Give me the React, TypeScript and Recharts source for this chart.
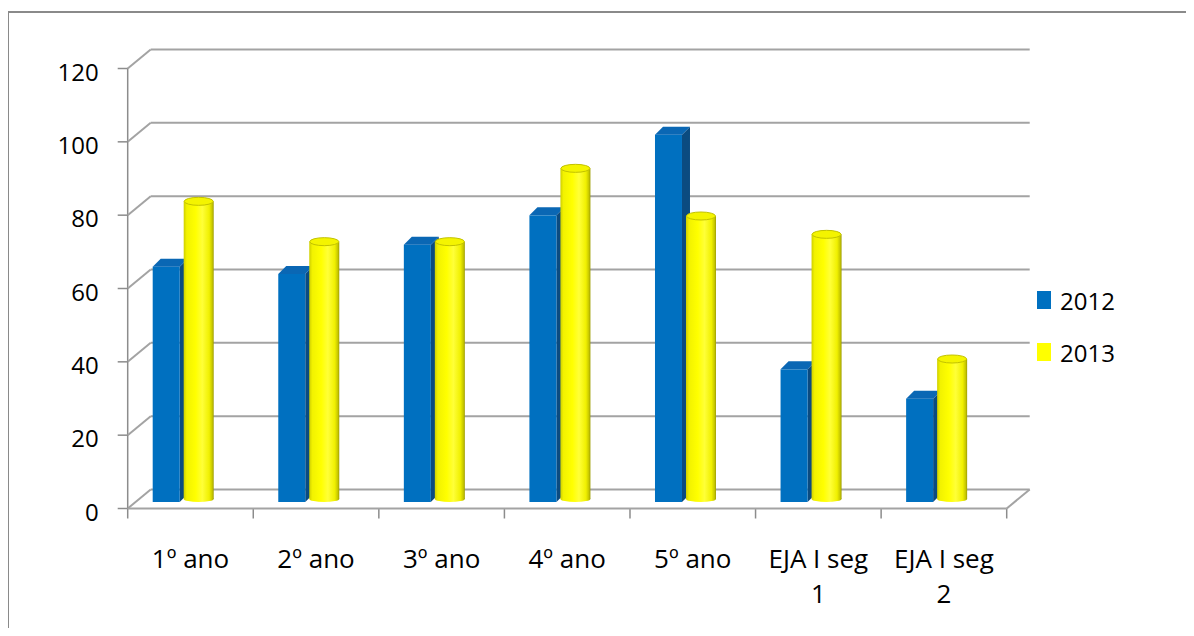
import { BarChart, Bar, XAxis, YAxis, CartesianGrid } from 'recharts';

const categories = ['1º ano', '2º ano', '3º ano', '4º ano', '5º ano', 'EJA I seg 1', 'EJA I seg 2'];
const values2012 = [65, 63, 71, 79, 101, 37, 29];
const values2013 = [82, 71, 71, 91, 78, 73, 39];
const yTicks = [0, 20, 40, 60, 80, 100, 120];
const seriesNames = ['2012', '2013'];

const COLORS = {
  blue: '#0070C0',
  blueTop: '#0a67b4',
  blueSide: '#0b4b80',
  yellow: '#FFFF00',
};

const FONT = '"Open Sans", sans-serif';
const GRID = '#a3a3a3';
const AXIS = '#8c8c8c';

const W = 1184;
const H = 620;
// plot area the bars stand in; the front axes and back wall are offset from it
const PLOT = { left: 112.7, right: 991.7, top: 54, bottom: 494 };
const Y_AXIS_W = 60;
const X_AXIS_H = 100;
const FRONT = { dx: 7, dy: 6.5 };
const BACK = { dx: 30, dy: -12.5 };
const MAX_LINE_CHARS = 9;

const data = categories.map((name, i) => ({
  name,
  y2012: values2012[i],
  y2013: values2013[i],
}));

// greedy word wrap for the category labels
function wrapLabel(label: string): string[] {
  const lines: string[] = [];
  let cur = '';
  for (const w of label.split(' ')) {
    const next = cur ? `${cur} ${w}` : w;
    if (next.length > MAX_LINE_CHARS && cur) {
      lines.push(cur);
      cur = w;
    } else {
      cur = next;
    }
  }
  if (cur) lines.push(cur);
  return lines;
}

function BackLine(props: any) {
  return (
    <line
      key={`back-${props.index}`}
      x1={props.x1 + BACK.dx}
      x2={props.x2 + BACK.dx}
      y1={props.y1 + BACK.dy}
      y2={props.y2 + BACK.dy}
      stroke={GRID}
      strokeWidth={2}
    />
  );
}

function YTick({ y, payload }: any) {
  const fx = PLOT.left + FRONT.dx;
  const fy = y + FRONT.dy;
  const v = payload.value;
  return (
    <g>
      <line x1={fx} y1={fy} x2={PLOT.left + BACK.dx} y2={y + BACK.dy} stroke={GRID} strokeWidth={2} />
      <line x1={fx - 10} y1={fy} x2={fx} y2={fy} stroke={AXIS} strokeWidth={1.5} />
      {v === 0 && (
        <>
          <line x1={fx} y1={fy} x2={fx} y2={PLOT.top + FRONT.dy} stroke={AXIS} strokeWidth={1.5} />
          <line x1={fx} y1={fy} x2={PLOT.right + FRONT.dx} y2={fy} stroke={GRID} strokeWidth={2} />
          <line
            x1={PLOT.right + FRONT.dx}
            y1={fy}
            x2={PLOT.right + BACK.dx}
            y2={y + BACK.dy}
            stroke={GRID}
            strokeWidth={2}
          />
        </>
      )}
      <text
        x={fx - 29}
        y={fy + 3.5}
        dy="0.355em"
        textAnchor="end"
        fontFamily={FONT}
        fontSize={24}
        fill="#000"
      >
        {v}
      </text>
    </g>
  );
}

function XTick({ x, payload, index }: any) {
  const step = (PLOT.right - PLOT.left) / categories.length;
  const cx = x + FRONT.dx;
  const floor = PLOT.bottom + FRONT.dy;
  const left = cx - step / 2;
  const lines = wrapLabel(String(payload.value));
  return (
    <g>
      <line x1={left} y1={floor} x2={left} y2={floor + 10} stroke={AXIS} strokeWidth={1.5} />
      {index === categories.length - 1 && (
        <line x1={left + step} y1={floor} x2={left + step} y2={floor + 10} stroke={AXIS} strokeWidth={1.5} />
      )}
      <text x={cx} y={floor + 59} textAnchor="middle" fontFamily={FONT} fontSize={26} fill="#000">
        {lines.map((l, i) => (
          <tspan key={i} x={cx} dy={i === 0 ? 0 : 35}>
            {l}
          </tspan>
        ))}
      </text>
    </g>
  );
}

// box column: front face, darker right side and a slanted top
function BoxBar({ x, y, width, height }: any) {
  const fw = width - 3;
  const d = 8;
  const base = y + height;
  return (
    <g>
      <polygon
        points={`${x + fw},${y + 3} ${x + fw + d},${y - 5} ${x + fw + d},${base - 8} ${x + fw},${base}`}
        fill={COLORS.blueSide}
      />
      <rect x={x} y={y + 3} width={fw} height={height - 3} fill={COLORS.blue} />
      <polygon
        points={`${x},${y + 3} ${x + fw},${y + 3} ${x + fw + d},${y - 5} ${x + d},${y - 5}`}
        fill={COLORS.blueTop}
      />
    </g>
  );
}

// cylinder column with shaded body and elliptic cap
function CylinderBar({ x, y, width, height }: any) {
  const rx = width / 2;
  const cx = x + rx;
  const base = y + height;
  return (
    <g>
      <rect x={x} y={y} width={width} height={height - 3} fill="url(#cyl)" />
      <ellipse cx={cx} cy={base - 3} rx={rx} ry={3} fill="url(#cyl)" />
      <ellipse cx={cx} cy={y} rx={rx - 0.5} ry={4} fill="#f4f400" stroke="#c2c200" strokeWidth={1} />
    </g>
  );
}

export default function App() {
  return (
    <div style={{ position: 'relative', width: W, height: H, fontFamily: FONT }}>
      <div
        style={{
          position: 'absolute',
          left: -1,
          top: 3,
          width: W + 3,
          height: H - 3,
          borderLeft: '2px solid #8a8a8a',
          borderTop: '2px solid #8a8a8a',
          boxSizing: 'border-box',
        }}
      />
      <BarChart
        width={W}
        height={H}
        data={data}
        barSize={30}
        barGap={1}
        margin={{
          top: PLOT.top,
          left: PLOT.left - Y_AXIS_W,
          right: W - PLOT.right,
          bottom: H - PLOT.bottom - X_AXIS_H,
        }}
        style={{ position: 'absolute', left: 0, top: 0 }}
      >
        <defs>
          <linearGradient id="cyl" x1="0" y1="0" x2="1" y2="0">
            <stop offset="0" stopColor="#cfcf00" />
            <stop offset="0.1" stopColor="#f2f200" />
            <stop offset="0.4" stopColor="#ffff00" />
            <stop offset="0.62" stopColor="#ffff38" />
            <stop offset="0.85" stopColor="#f0f000" />
            <stop offset="0.95" stopColor="#c6c600" />
            <stop offset="1" stopColor="#9c9c00" />
          </linearGradient>
        </defs>
        <CartesianGrid vertical={false} horizontal={BackLine} />
        <XAxis
          dataKey="name"
          height={X_AXIS_H}
          interval={0}
          axisLine={false}
          tickLine={false}
          tick={XTick}
        />
        <YAxis
          width={Y_AXIS_W}
          domain={[0, 120]}
          ticks={yTicks}
          axisLine={false}
          tickLine={false}
          tick={YTick}
        />
        <Bar dataKey="y2012" name={seriesNames[0]} fill={COLORS.blue} shape={BoxBar} isAnimationActive={false} />
        <Bar dataKey="y2013" name={seriesNames[1]} fill={COLORS.yellow} shape={CylinderBar} isAnimationActive={false} />
      </BarChart>
      {seriesNames.map((s, i) => (
        <div key={s} style={{ position: 'absolute', left: 1028.7, top: 283 + i * 52, height: 18 }}>
          <div
            style={{
              position: 'absolute',
              left: 0,
              top: 0,
              width: 14,
              height: 18,
              background: i === 0 ? COLORS.blue : COLORS.yellow,
            }}
          />
          <div
            style={{
              position: 'absolute',
              left: 23.3,
              top: -8,
              fontSize: 24,
              lineHeight: '36px',
              color: '#000',
              whiteSpace: 'nowrap',
            }}
          >
            {s}
          </div>
        </div>
      ))}
    </div>
  );
}
